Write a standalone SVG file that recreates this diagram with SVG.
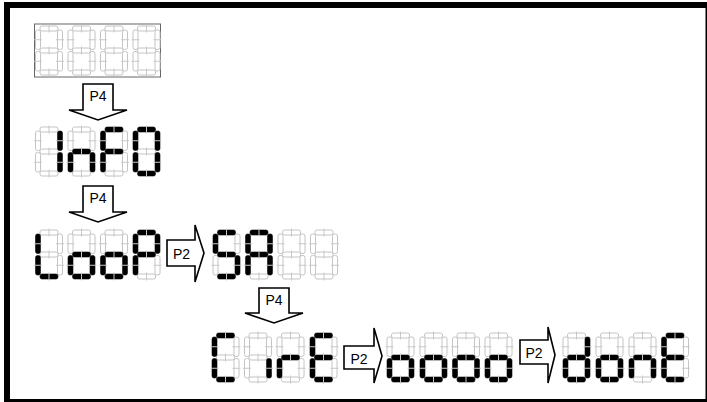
<svg xmlns="http://www.w3.org/2000/svg" xmlns:xlink="http://www.w3.org/1999/xlink" width="707" height="402" viewBox="0 0 707 402">
<style>
.off{fill:#fff;stroke:#c4c4c4;stroke-width:1}
.on{fill:#000;stroke:#000;stroke-width:0.4}
.tick{stroke:#c8c8c8;stroke-width:1;fill:none}
.arrow{fill:#fff;stroke:#000;stroke-width:1.6;stroke-linejoin:miter}
.lbl{font-family:"Liberation Sans",Arial,sans-serif;font-size:14px;fill:#000;text-anchor:middle}
</style>
<defs>
<rect id="sA" x="4.5" y="0" width="18" height="5" rx="2"/>
<rect id="sB" x="22" y="4" width="5" height="19.5" rx="2"/>
<rect id="sC" x="22" y="25.5" width="5" height="19.5" rx="2"/>
<rect id="sD" x="4.5" y="44" width="18" height="5" rx="2"/>
<rect id="sE" x="0" y="25.5" width="5" height="19.5" rx="2"/>
<rect id="sF" x="0" y="4" width="5" height="19.5" rx="2"/>
<rect id="sG" x="4.5" y="22" width="18" height="5" rx="2"/>
<g id="blank">
<use href="#sA" class="off"/><use href="#sB" class="off"/><use href="#sC" class="off"/><use href="#sD" class="off"/><use href="#sE" class="off"/><use href="#sF" class="off"/><use href="#sG" class="off"/>
</g>
<path id="ticks" class="tick" d="M13.5 -1.5v8M13.5 20.5v8M13.5 42.5v8M-1.5 13.75h8M20.5 13.75h8M-1.5 35.25h8M20.5 35.25h8"/>
</defs>
<rect width="707" height="402" fill="#fff"/>
<g id="frame">
<rect x="4" y="2" width="703" height="6" fill="#000"/>
<rect x="4" y="2" width="6" height="400" fill="#000"/>
<rect x="4" y="399" width="703" height="3" fill="#000"/>
<rect x="705.5" y="2" width="1.5" height="400" fill="#000"/>
</g>
<g id="row1">
<rect x="34.5" y="24" width="126" height="53" fill="none" stroke="#666" stroke-width="1"/>
<g id="r1d1" transform="translate(35.5,26)"><use href="#blank"/><use href="#ticks"/></g>
<g id="r1d2" transform="translate(68,26)"><use href="#blank"/><use href="#ticks"/></g>
<g id="r1d3" transform="translate(100.5,26)"><use href="#blank"/><use href="#ticks"/></g>
<g id="r1d4" transform="translate(133,26)"><use href="#blank"/><use href="#ticks"/></g>
</g>
<g id="row2">
<g id="r2d1" transform="translate(35.5,127)"><use href="#blank"/><use href="#sB" class="on"/><use href="#sC" class="on"/><use href="#ticks"/></g>
<g id="r2d2" transform="translate(68,127)"><use href="#blank"/><use href="#sC" class="on"/><use href="#sE" class="on"/><use href="#sG" class="on"/><use href="#ticks"/></g>
<g id="r2d3" transform="translate(100.5,127)"><use href="#blank"/><use href="#sA" class="on"/><use href="#sE" class="on"/><use href="#sF" class="on"/><use href="#sG" class="on"/><use href="#ticks"/></g>
<g id="r2d4" transform="translate(133,127)"><use href="#blank"/><use href="#sA" class="on"/><use href="#sB" class="on"/><use href="#sC" class="on"/><use href="#sD" class="on"/><use href="#sE" class="on"/><use href="#sF" class="on"/><use href="#ticks"/></g>
</g>
<g id="row3">
<g id="r3d1" transform="translate(35.5,230)"><use href="#blank"/><use href="#sD" class="on"/><use href="#sE" class="on"/><use href="#sF" class="on"/><use href="#ticks"/></g>
<g id="r3d2" transform="translate(68,230)"><use href="#blank"/><use href="#sC" class="on"/><use href="#sD" class="on"/><use href="#sE" class="on"/><use href="#sG" class="on"/><use href="#ticks"/></g>
<g id="r3d3" transform="translate(100.5,230)"><use href="#blank"/><use href="#sC" class="on"/><use href="#sD" class="on"/><use href="#sE" class="on"/><use href="#sG" class="on"/><use href="#ticks"/></g>
<g id="r3d4" transform="translate(133,230)"><use href="#blank"/><use href="#sA" class="on"/><use href="#sB" class="on"/><use href="#sE" class="on"/><use href="#sF" class="on"/><use href="#sG" class="on"/><use href="#ticks"/></g>
<g id="r3d5" transform="translate(213,230)"><use href="#blank"/><use href="#sA" class="on"/><use href="#sC" class="on"/><use href="#sD" class="on"/><use href="#sF" class="on"/><use href="#sG" class="on"/><use href="#ticks"/></g>
<g id="r3d6" transform="translate(245.5,230)"><use href="#blank"/><use href="#sA" class="on"/><use href="#sB" class="on"/><use href="#sC" class="on"/><use href="#sE" class="on"/><use href="#sF" class="on"/><use href="#sG" class="on"/><use href="#ticks"/></g>
<g id="r3d7" transform="translate(278,230)"><use href="#blank"/><use href="#ticks"/></g>
<g id="r3d8" transform="translate(310.5,230)"><use href="#blank"/><use href="#ticks"/></g>
</g>
<g id="row4">
<g id="r4d1" transform="translate(212,333)"><use href="#blank"/><use href="#sA" class="on"/><use href="#sD" class="on"/><use href="#sE" class="on"/><use href="#sF" class="on"/><use href="#ticks"/></g>
<g id="r4d2" transform="translate(244.5,333)"><use href="#blank"/><use href="#sC" class="on"/><use href="#ticks"/></g>
<g id="r4d3" transform="translate(277,333)"><use href="#blank"/><use href="#sE" class="on"/><use href="#sG" class="on"/><use href="#ticks"/></g>
<g id="r4d4" transform="translate(310,333)"><use href="#blank"/><use href="#sA" class="on"/><use href="#sD" class="on"/><use href="#sE" class="on"/><use href="#sF" class="on"/><use href="#sG" class="on"/><use href="#ticks"/></g>
<g id="r4d5" transform="translate(387,333)"><use href="#blank"/><use href="#sC" class="on"/><use href="#sD" class="on"/><use href="#sE" class="on"/><use href="#sG" class="on"/><use href="#ticks"/></g>
<g id="r4d6" transform="translate(420,333)"><use href="#blank"/><use href="#sC" class="on"/><use href="#sD" class="on"/><use href="#sE" class="on"/><use href="#sG" class="on"/><use href="#ticks"/></g>
<g id="r4d7" transform="translate(452.5,333)"><use href="#blank"/><use href="#sC" class="on"/><use href="#sD" class="on"/><use href="#sE" class="on"/><use href="#sG" class="on"/><use href="#ticks"/></g>
<g id="r4d8" transform="translate(485,333)"><use href="#blank"/><use href="#sC" class="on"/><use href="#sD" class="on"/><use href="#sE" class="on"/><use href="#sG" class="on"/><use href="#ticks"/></g>
<g id="r4d9" transform="translate(563,333)"><use href="#blank"/><use href="#sB" class="on"/><use href="#sC" class="on"/><use href="#sD" class="on"/><use href="#sE" class="on"/><use href="#sG" class="on"/><use href="#ticks"/></g>
<g id="r4d10" transform="translate(596,333)"><use href="#blank"/><use href="#sC" class="on"/><use href="#sD" class="on"/><use href="#sE" class="on"/><use href="#sG" class="on"/><use href="#ticks"/></g>
<g id="r4d11" transform="translate(629,333)"><use href="#blank"/><use href="#sC" class="on"/><use href="#sE" class="on"/><use href="#sG" class="on"/><use href="#ticks"/></g>
<g id="r4d12" transform="translate(661.5,333)"><use href="#blank"/><use href="#sA" class="on"/><use href="#sD" class="on"/><use href="#sE" class="on"/><use href="#sF" class="on"/><use href="#sG" class="on"/><use href="#ticks"/></g>
</g>
<g id="connectors">
<g id="arrow1"><polygon class="arrow" points="83,84 113,84 113,110 127,110 98,120 69,110 83,110"/><text class="lbl" x="98" y="101">P4</text></g>
<g id="arrow2"><polygon class="arrow" points="83,186 113,186 113,212 127,212 98,222 69,212 83,212"/><text class="lbl" x="98" y="203">P4</text></g>
<g id="arrow3"><polygon class="arrow" points="167,240 195,240 195,225 204,253 195,282 195,266 167,266"/><text class="lbl" x="181.5" y="259">P2</text></g>
<g id="arrow4"><polygon class="arrow" points="259,288 289,288 289,313 303,313 274,323 245,313 259,313"/><text class="lbl" x="274" y="305">P4</text></g>
<g id="arrow5"><polygon class="arrow" points="344,346 374,346 374,328 382,356 374,383 374,369 344,369"/><text class="lbl" x="359" y="364">P2</text></g>
<g id="arrow6"><polygon class="arrow" points="520,340 548,340 548,327 555,355 548,383 548,364 520,364"/><text class="lbl" x="534" y="358">P2</text></g>
</g>
</svg>
